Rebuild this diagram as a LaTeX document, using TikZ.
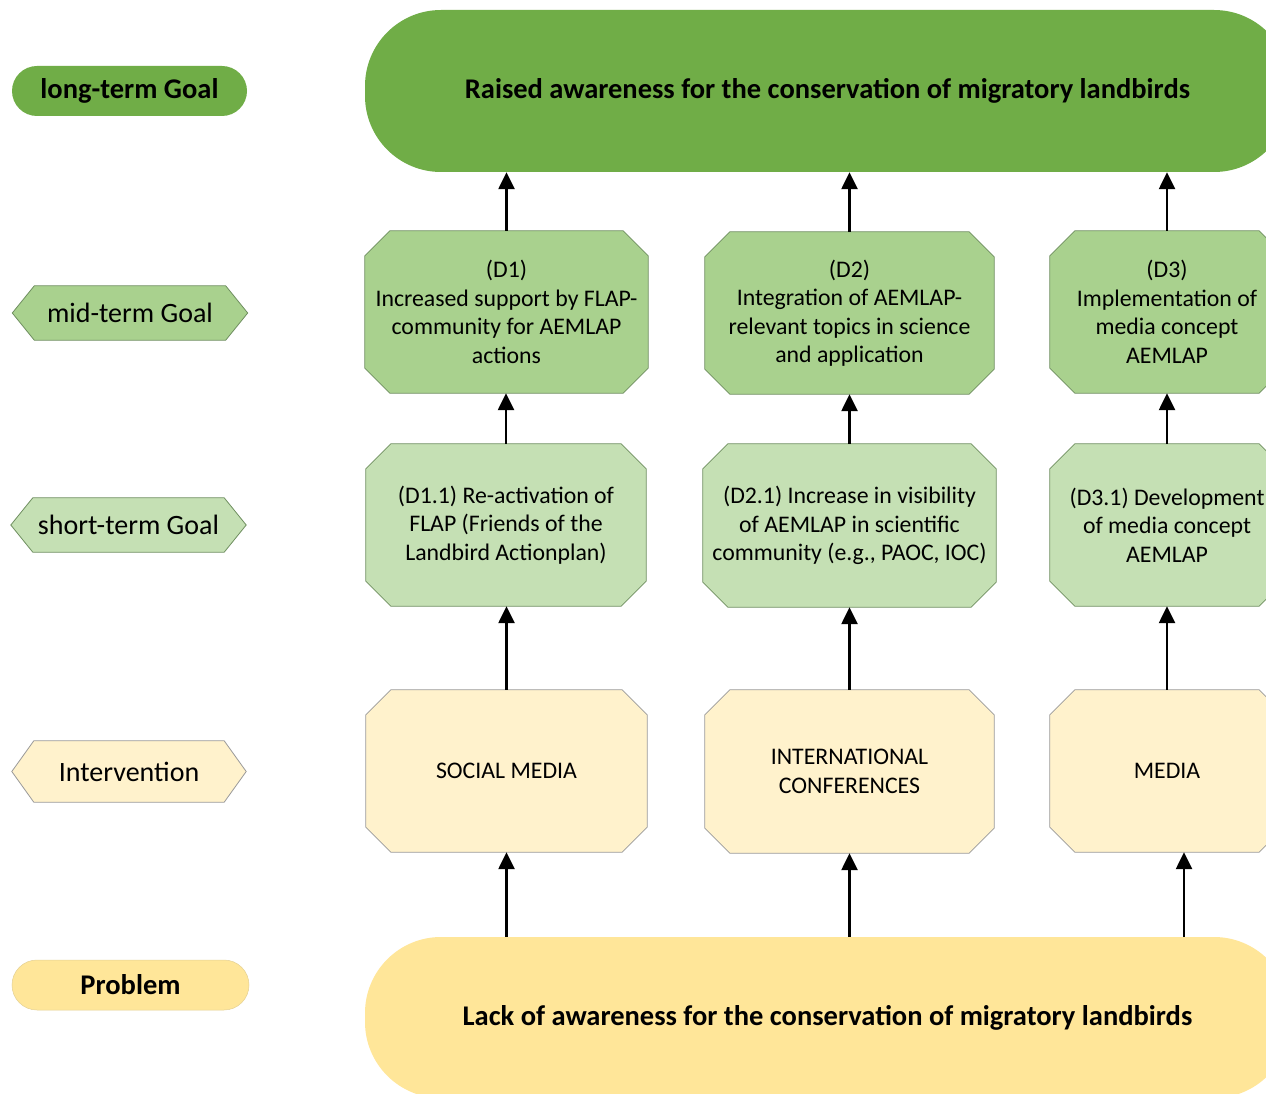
\documentclass[tikz,border=0pt]{standalone}
\usepackage{fontspec}
\setmainfont{Carlito}
\usetikzlibrary{arrows.meta,backgrounds,calc}

\definecolor{gDark}{HTML}{70AD47}
\definecolor{gMid}{HTML}{A9D18E}
\definecolor{gLight}{HTML}{C5E0B4}
\definecolor{yLight}{HTML}{FFF2CC}
\definecolor{yMid}{HTML}{FFE699}
\definecolor{gEdge}{HTML}{6F8F60}
\definecolor{yEdge}{HTML}{9A9A9A}

% octagonal box drawn behind a named rectangular node
\newcommand\octbox[3]{%
  \begin{pgfonlayer}{background}
    \filldraw[fill=#2,draw=#3,line width=0.8pt]
      ($(#1.north west)+(25,0)$) -- ($(#1.north east)+(-25,0)$) --
      ($(#1.north east)+(0,25)$) -- ($(#1.south east)+(0,-25)$) --
      ($(#1.south east)+(-25,0)$) -- ($(#1.south west)+(25,0)$) --
      ($(#1.south west)+(0,-25)$) -- ($(#1.north west)+(0,25)$) -- cycle;
  \end{pgfonlayer}}

% pointed hexagon behind a named legend node
\newcommand\hexbox[3]{%
  \begin{pgfonlayer}{background}
    \filldraw[fill=#2,draw=#3,line width=0.8pt]
      (#1.west) -- ($(#1.north west)+(22,0)$) -- ($(#1.north east)+(-22,0)$) --
      (#1.east) -- ($(#1.south east)+(-22,0)$) -- ($(#1.south west)+(22,0)$) -- cycle;
  \end{pgfonlayer}}

\tikzset{
  boxtext/.style={inner sep=0pt, align=center, font=\fontsize{23.8}{28.5}\selectfont},
  legend/.style={inner sep=0pt, minimum width=235pt, align=center, font=\fontsize{28}{32}\selectfont},
  bigbox/.style={inner sep=0pt, rounded corners=76pt, minimum width=925pt, minimum height=162pt,
    font=\fontsize{28.5}{32}\selectfont\bfseries},
  arr/.style={-{Triangle[width=16pt,length=17pt]}, line width=2.5pt},
}

\begin{document}
\begin{tikzpicture}[x=1pt,y=-1pt]
\useasboundingbox (0,0) rectangle (1266,1094);
\begin{pgfonlayer}{background}
  \fill[white] (0,0) rectangle (1266,1094);
\end{pgfonlayer}

% legend column
\node[legend, minimum height=50pt, rounded corners=25pt, fill=gDark, font=\fontsize{28.5}{32}\selectfont\bfseries] (lt) at (129.5,91) {long-term Goal};
\node[legend, minimum height=54pt] (mt) at (130,313) {mid-term Goal};
\hexbox{mt}{gMid}{gEdge}
\node[legend, minimum height=54pt] (st) at (128.5,525) {short-term Goal};
\hexbox{st}{gLight}{gEdge}
\node[legend, minimum height=61pt, minimum width=234pt] (iv) at (129,771.5) {Intervention};
\hexbox{iv}{yLight}{yEdge}
\node[legend, minimum height=50pt, minimum width=237pt, rounded corners=25pt, fill=yMid, draw=yMid!80!gray, line width=0.5pt, font=\fontsize{28.5}{32}\selectfont\bfseries] (pb) at (130.5,985) {Problem};

% long-term goal and problem
\node[bigbox, fill=gDark] (goal) at (827.5,91) {Raised awareness for the conservation of migratory landbirds};
\node[bigbox, fill=yMid, minimum height=161pt] (prob) at (827.5,1017.5) {Lack of awareness for the conservation of migratory landbirds};

% mid-term goals
\node[boxtext, minimum width=283pt, minimum height=162pt] (d1) at (506.5,312)
  {(D1)\\Increased support by FLAP-\\community for AEMLAP\\actions};
\octbox{d1}{gMid}{gEdge}
\node[boxtext, minimum width=289pt, minimum height=162pt] (d2) at (849.5,313)
  {(D2)\\Integration of AEMLAP-\\relevant topics in science\\and application};
\octbox{d2}{gMid}{gEdge}
\node[boxtext, minimum width=234pt, minimum height=162pt] (d3) at (1167,312)
  {(D3)\\Implementation of\\media concept\\AEMLAP};
\octbox{d3}{gMid}{gEdge}

% short-term goals
\node[boxtext, minimum width=280pt, minimum height=162pt] (s1) at (506,525)
  {(D1.1) Re-activation of\\FLAP (Friends of the\\Landbird Actionplan)};
\octbox{s1}{gLight}{gEdge}
\node[boxtext, minimum width=293pt, minimum height=163pt] (s2) at (849.5,525.5)
  {(D2.1) Increase in visibility\\of AEMLAP in scientific\\community (e.g., PAOC, IOC)};
\octbox{s2}{gLight}{gEdge}
\node[boxtext, minimum width=234pt, minimum height=162pt] (s3) at (1167,525)
  {(D3.1) Development\\of media concept\\AEMLAP};
\octbox{s3}{gLight}{gEdge}

% interventions
\node[boxtext, minimum width=281pt, minimum height=162pt] (i1) at (506.5,771)
  {SOCIAL MEDIA};
\octbox{i1}{yLight}{yEdge}
\node[boxtext, minimum width=289pt, minimum height=163pt] (i2) at (849.5,771.5)
  {INTERNATIONAL\\CONFERENCES};
\octbox{i2}{yLight}{yEdge}
\node[boxtext, minimum width=234pt, minimum height=162pt] (i3) at (1167,771)
  {MEDIA};
\octbox{i3}{yLight}{yEdge}

% connectors
\coordinate (p3) at (1184,937);
\foreach \a/\b in {d1/goal, d2/goal, d3/goal, s1/d1, s2/d2, s3/d3, i1/s1, i2/s2, i3/s3}
  \draw[arr] (\a.north) -- (\a.north |- \b.south);
\draw[arr] (i1.south |- prob.north) -- (i1.south);
\draw[arr] (i2.south |- prob.north) -- (i2.south);
\draw[arr] (p3) -- (p3 |- i3.south);
\end{tikzpicture}
\end{document}
